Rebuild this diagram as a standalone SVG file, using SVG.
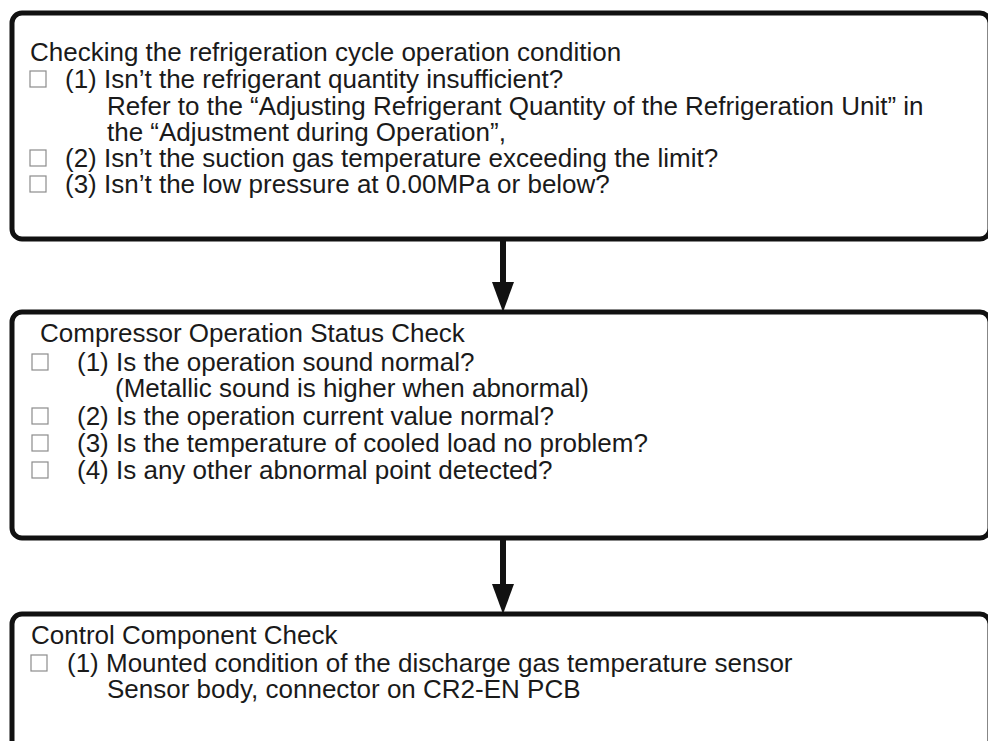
<svg xmlns="http://www.w3.org/2000/svg" width="988" height="741" viewBox="0 0 988 741">
<style>
.box{fill:#fff;stroke:#111;stroke-width:5}
.cb{fill:#fff;stroke:#8c8c8c;stroke-width:1.2}
text{font-family:"Liberation Sans",Arial,sans-serif;font-size:26px;fill:#1a1a1a}
.conn line{stroke:#111;stroke-width:6}
.conn polygon{fill:#111}
</style>
<rect width="988" height="741" fill="#fff"/>
<g id="node1">
<rect class="box" x="12" y="13" width="978" height="226" rx="10"/>
<text x="30" y="61">Checking the refrigeration cycle operation condition</text>
<rect class="cb" x="30" y="71" width="16" height="16"/>
<text x="65" y="88">(1) Isn’t the refrigerant quantity insufficient?</text>
<text x="107" y="115">Refer to the “Adjusting Refrigerant Quantity of the Refrigeration Unit” in</text>
<text x="107" y="141">the “Adjustment during Operation”,</text>
<rect class="cb" x="30" y="150" width="16" height="16"/>
<text x="65" y="167">(2) Isn’t the suction gas temperature exceeding the limit?</text>
<rect class="cb" x="30" y="176" width="16" height="16"/>
<text x="65" y="193">(3) Isn’t the low pressure at 0.00MPa or below?</text>
</g>
<g id="node2">
<rect class="box" x="12" y="312" width="978" height="226" rx="10"/>
<text x="40" y="342">Compressor Operation Status Check</text>
<rect class="cb" x="32" y="354" width="16" height="16"/>
<text x="77" y="371">(1) Is the operation sound normal?</text>
<text x="115" y="397">(Metallic sound is higher when abnormal)</text>
<rect class="cb" x="32" y="408" width="16" height="16"/>
<text x="77" y="425">(2) Is the operation current value normal?</text>
<rect class="cb" x="32" y="435" width="16" height="16"/>
<text x="77" y="452">(3) Is the temperature of cooled load no problem?</text>
<rect class="cb" x="32" y="462" width="16" height="16"/>
<text x="77" y="479">(4) Is any other abnormal point detected?</text>
</g>
<g id="node3">
<rect class="box" x="12" y="614" width="978" height="180" rx="10"/>
<text x="31" y="644">Control Component Check</text>
<rect class="cb" x="31" y="655" width="16" height="16"/>
<text x="67" y="672">(1) Mounted condition of the discharge gas temperature sensor</text>
<text x="107" y="698">Sensor body, connector on CR2-EN PCB</text>
</g>
<g class="conn" id="connectors">
<line x1="503" y1="239" x2="503" y2="284"/>
<polygon points="492,282 514,282 503,312"/>
<line x1="503" y1="538" x2="503" y2="586"/>
<polygon points="492,584 514,584 503,614"/>
</g>
</svg>
